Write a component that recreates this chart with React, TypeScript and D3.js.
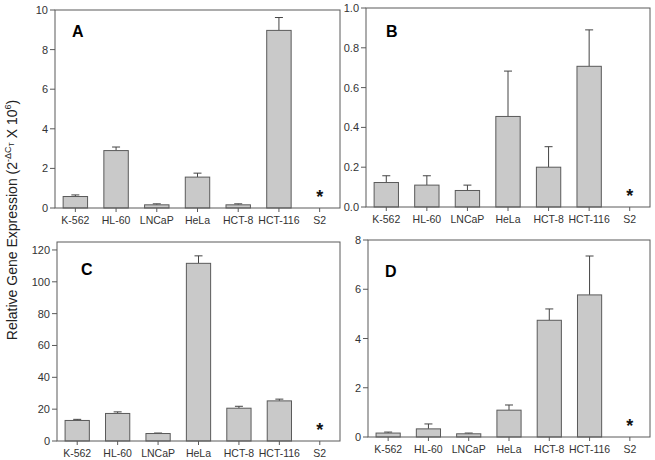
import React from "react";
import * as d3 from "d3";

const categories = ["K-562", "HL-60", "LNCaP", "HeLa", "HCT-8", "HCT-116", "S2"];

const valuesA = [0.58, 2.9, 0.16, 1.56, 0.16, 8.97, 0];
const errTopA = [0.66, 3.08, 0.21, 1.76, 0.21, 9.62, 0];
const valuesB = [0.123, 0.11, 0.083, 0.455, 0.2, 0.707, 0];
const errTopB = [0.157, 0.157, 0.11, 0.683, 0.303, 0.89, 0];
const valuesC = [12.9, 17.3, 4.7, 111.6, 20.6, 25.2, 0];
const errTopC = [13.6, 18.3, 5.0, 116.3, 21.8, 26.3, 0];
const valuesD = [0.16, 0.33, 0.13, 1.09, 4.74, 5.77, 0];
const errTopD = [0.2, 0.53, 0.16, 1.3, 5.2, 7.35, 0];

const ticksA = [0, 2, 4, 6, 8, 10];
const ticksB = [0, 0.2, 0.4, 0.6, 0.8, 1.0];
const ticksC = [0, 20, 40, 60, 80, 100, 120];
const ticksD = [0, 2, 4, 6, 8];

const FONT = "'Liberation Sans', Arial, sans-serif";

type PanelProps = {
  letter: string;
  values: number[];
  errTop: number[];
  ticks: number[];
  yMax: number;
  fmt: (v: number) => string;
  x0: number;
  x1: number;
  y0: number;
  y1: number;
  letterDx: number;
  letterDy: number;
};

function Panel(p: PanelProps) {
  const x = d3.scaleBand<string>().domain(categories).range([p.x0, p.x1]).paddingInner(0.4).paddingOuter(0.2);
  const y = d3.scaleLinear().domain([0, p.yMax]).range([p.y1, p.y0]);
  const bw = x.bandwidth();
  return (
    <g>
      {categories.map((c, i) => {
        const v = p.values[i];
        const cx = (x(c) as number) + bw / 2;
        if (c === "S2") {
          return (
            <text key={c} x={cx} y={y(0) - 5} textAnchor="middle" fontSize={18} fontWeight="bold" fontFamily={FONT} fill="#111">
              *
            </text>
          );
        }
        return (
          <g key={c}>
            <line x1={cx} x2={cx} y1={y(v)} y2={y(p.errTop[i])} stroke="#444" strokeWidth={1} />
            <line x1={cx - 4} x2={cx + 4} y1={y(p.errTop[i])} y2={y(p.errTop[i])} stroke="#444" strokeWidth={1} />
            <rect x={x(c)} y={y(v)} width={bw} height={y(0) - y(v)} fill="#c9c9c9" stroke="#5a5a5a" strokeWidth={1} />
          </g>
        );
      })}
      <rect x={p.x0} y={p.y0} width={p.x1 - p.x0} height={p.y1 - p.y0} fill="none" stroke="#5a5a5a" strokeWidth={1} />
      {p.ticks.map((t) => (
        <g key={t}>
          <line x1={p.x0 - 5} x2={p.x0} y1={y(t)} y2={y(t)} stroke="#5a5a5a" />
          <text x={p.x0 - 7} y={y(t) + 4} textAnchor="end" fontSize={11} fontFamily={FONT} fill="#333">
            {p.fmt(t)}
          </text>
        </g>
      ))}
      {categories.map((c) => {
        const cx = (x(c) as number) + bw / 2;
        return (
          <g key={c}>
            <line x1={cx} x2={cx} y1={p.y1} y2={p.y1 + 4} stroke="#5a5a5a" />
            <text x={cx} y={p.y1 + 16} textAnchor="middle" fontSize={10.5} fontFamily={FONT} fill="#333">
              {c}
            </text>
          </g>
        );
      })}
      <text x={p.x0 + p.letterDx} y={p.y0 + p.letterDy} fontSize={16} fontWeight="bold" fontFamily={FONT} fill="#000">
        {p.letter}
      </text>
    </g>
  );
}

export default function App() {
  const intFmt = (v: number) => d3.format("d")(v);
  const decFmt = (v: number) => d3.format(".1f")(v);
  return (
    <svg width={655} height={460} style={{ position: "absolute", left: 0, top: 0, background: "#fff" }}>
      <rect x={0} y={0} width={655} height={460} fill="#fff" />
      <Panel letter="A" values={valuesA} errTop={errTopA} ticks={ticksA} yMax={10} fmt={intFmt}
        x0={55} x1={340} y0={10} y1={208} letterDx={17} letterDy={27} />
      <Panel letter="B" values={valuesB} errTop={errTopB} ticks={ticksB} yMax={1.0} fmt={decFmt}
        x0={366} x1={650} y0={8} y1={207} letterDx={20} letterDy={29} />
      <Panel letter="C" values={valuesC} errTop={errTopC} ticks={ticksC} yMax={125} fmt={intFmt}
        x0={57} x1={340} y0={242} y1={441} letterDx={24} letterDy={33} />
      <Panel letter="D" values={valuesD} errTop={errTopD} ticks={ticksD} yMax={8} fmt={intFmt}
        x0={368} x1={650} y0={240} y1={437} letterDx={17} letterDy={37} />
      <text transform="translate(17,220) rotate(-90)" textAnchor="middle" fontSize={14} fontFamily={FONT} fill="#222">
        Relative Gene Expression (2
        <tspan fontSize={9} dy={-6}>-ΔC</tspan>
        <tspan fontSize={7} dy={3}>T</tspan>
        <tspan fontSize={14} dy={3}> X 10</tspan>
        <tspan fontSize={9} dy={-6}>6</tspan>
        <tspan fontSize={14} dy={6}>)</tspan>
      </text>
    </svg>
  );
}
